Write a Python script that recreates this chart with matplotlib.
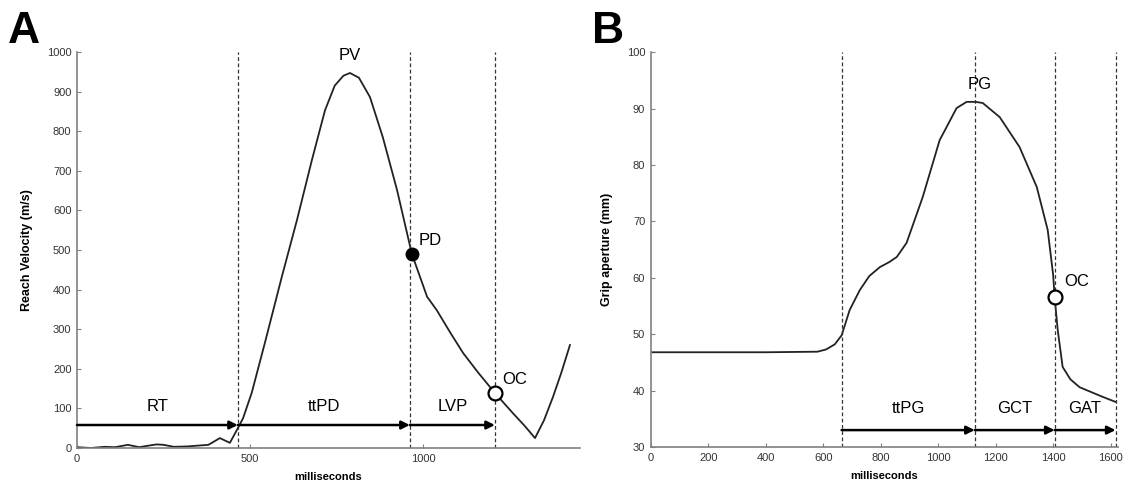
import matplotlib
matplotlib.use("Agg")
import matplotlib.pyplot as plt

plt.rcParams['font.family'] = ['Liberation Sans', 'DejaVu Sans']

# panel A: reach velocity trace
reach_ms = [0, 40, 80, 110, 147, 180, 200, 230, 250, 280, 320, 350, 380, 413, 442, 465, 480,
            505, 543, 592, 636, 679, 717, 745, 770, 789, 815, 847, 884, 925, 968, 1012, 1040,
            1080, 1116, 1160, 1208, 1260, 1295, 1324, 1350, 1376, 1400, 1425]
reach_vel = [2, 0, 3, 2, 8, 2, 5, 9, 8, 3, 4, 6, 8, 25, 13, 50, 75,
             139, 265, 432, 576, 727, 853, 915, 940, 947, 935, 886, 785, 652, 490, 382, 348,
             290, 240, 190, 139, 88, 55, 25, 70, 129, 190, 260]
reach_events = [465, 962, 1208]  # RT end, PD, OC
reach_segments = ["RT", "ttPD", "LVP"]
pd_point = (968, 490)
oc_point_a = (1208, 139)

# panel B: grip aperture trace
grip_ms = [0, 200, 400, 580, 610, 640, 664, 692, 727, 760, 797, 830, 856, 890, 946, 1005,
           1064, 1099, 1130, 1155, 1214, 1283, 1343, 1381, 1400, 1405, 1416, 1433, 1460,
           1492, 1572, 1617]
grip_mm = [46.8, 46.8, 46.8, 46.9, 47.3, 48.2, 49.8, 54.3, 57.8, 60.3, 61.9, 62.8, 63.7, 66.2,
           74.3, 84.4, 90.1, 91.2, 91.2, 91.0, 88.5, 83.2, 76.1, 68.5, 60.5, 56.6, 50.7,
           44.2, 42.0, 40.6, 38.9, 38.0]
grip_events = [664, 1127, 1405, 1617]
grip_segments = ["ttPG", "GCT", "GAT"]
oc_point_b = (1405, 56.6)

fig = plt.figure(figsize=(11.24, 4.91), dpi=100)
ax1 = fig.add_axes([0.0685, 0.0876, 0.4475, 0.8065])
ax2 = fig.add_axes([0.579, 0.0896, 0.4155, 0.804])

spine_col = "#808080"


def style(ax):
    for s in ["top", "right"]:
        ax.spines[s].set_visible(False)
    for s in ["left", "bottom"]:
        ax.spines[s].set_color(spine_col)
        ax.spines[s].set_linewidth(1.2)
    ax.tick_params(direction="in", length=3, width=0.8, color=spine_col,
                   labelsize=8, labelcolor="#333333", pad=4)
    ax.set_xlabel("milliseconds", fontsize=8, fontweight="bold", labelpad=6)


def arrow(ax, x0, x1, y):
    ax.annotate("", xy=(x1, y), xytext=(x0, y),
                arrowprops=dict(arrowstyle="-|>", color="k", lw=1.8,
                                mutation_scale=12, shrinkA=0, shrinkB=0))


# ---- A ----
style(ax1)
ax1.plot(reach_ms, reach_vel, color="#222222", lw=1.3)
for xe in reach_events:
    ax1.plot([xe, xe], [0, 1000], color="#333333", lw=0.9, ls=(0, (3, 2)))
starts = [0] + reach_events[:-1]
for x0, x1, lab in zip(starts, reach_events, reach_segments):
    arrow(ax1, x0, x1, 58)
    ax1.text((x0 + x1) / 2, 105, lab, ha="center", va="center", fontsize=12)
ax1.plot(*pd_point, "o", ms=9, color="k")
ax1.plot(*oc_point_a, "o", ms=10, mfc="white", mec="k", mew=1.6)
ax1.text(789, 990, "PV", ha="center", va="center", fontsize=12)
ax1.text(1020, 525, "PD", ha="center", va="center", fontsize=12)
ax1.text(1266, 172, "OC", ha="center", va="center", fontsize=12)
ax1.set_xlim(0, 1454)
ax1.set_ylim(0, 1000)
ax1.set_xticks([0, 500, 1000])
ax1.set_yticks(range(0, 1001, 100))
ax1.set_ylabel("Reach Velocity (m/s)", fontsize=9, fontweight="bold", labelpad=10)
fig.text(0.007, 0.912, "A", fontsize=32, fontweight="bold")

# ---- B ----
style(ax2)
ax2.plot(grip_ms, grip_mm, color="#222222", lw=1.3)
for xe in grip_events:
    ax2.plot([xe, xe], [30, 100], color="#333333", lw=0.9, ls=(0, (3, 2)))
for x0, x1, lab in zip(grip_events[:-1], grip_events[1:], grip_segments):
    arrow(ax2, x0, x1, 33)
    ax2.text((x0 + x1) / 2, 36.9, lab, ha="center", va="center", fontsize=12)
ax2.plot(*oc_point_b, "o", ms=10, mfc="white", mec="k", mew=1.6)
ax2.text(1144, 94.2, "PG", ha="center", va="center", fontsize=12)
ax2.text(1482, 59.3, "OC", ha="center", va="center", fontsize=12)
ax2.set_xlim(0, 1625)
ax2.set_ylim(30, 100)
ax2.set_xticks(range(0, 1601, 200))
ax2.set_yticks(range(30, 101, 10))
ax2.set_ylabel("Grip aperture (mm)", fontsize=9, fontweight="bold", labelpad=10)
fig.text(0.527, 0.912, "B", fontsize=32, fontweight="bold")

fig.savefig("out.png", dpi=100)
